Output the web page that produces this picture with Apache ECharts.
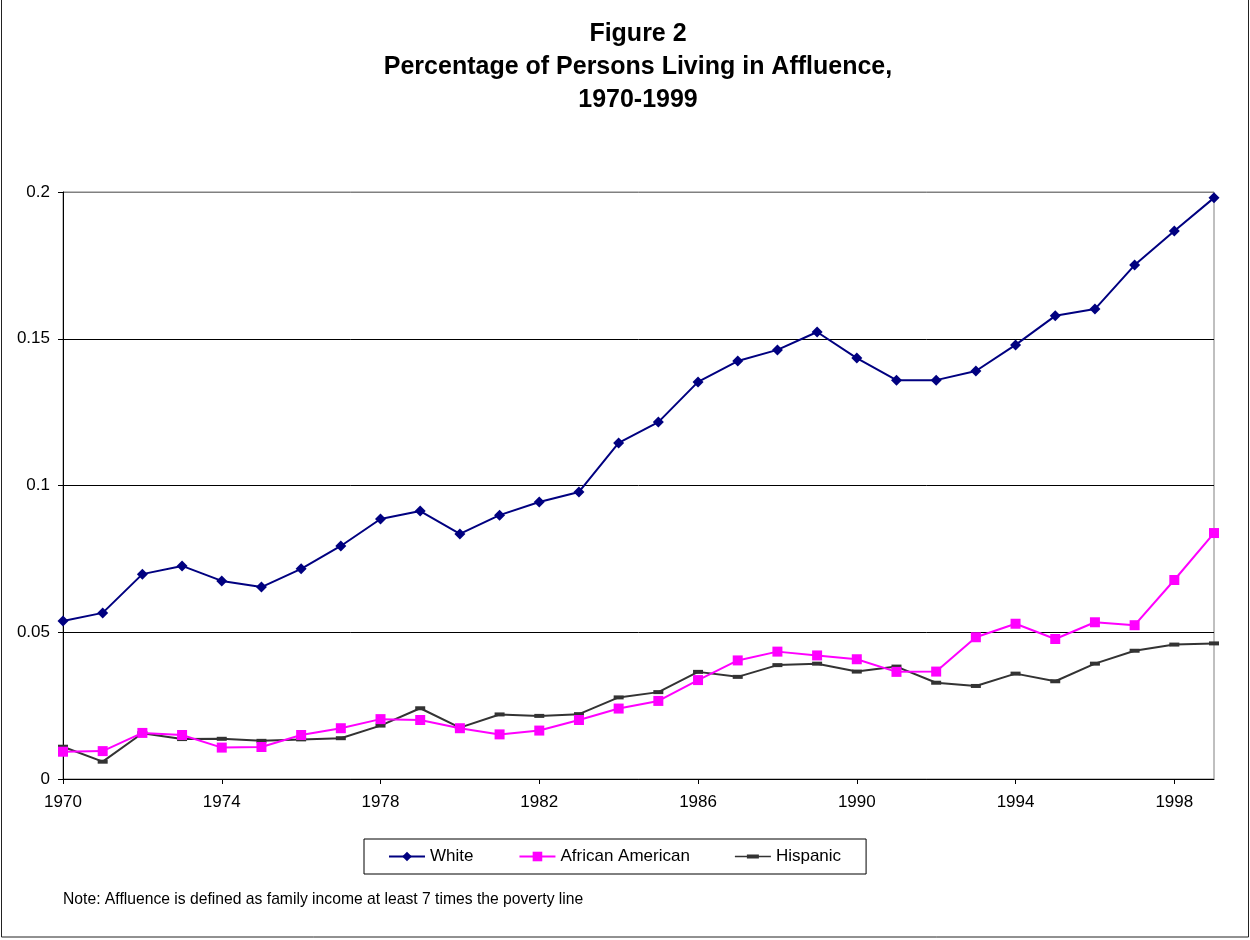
<!DOCTYPE html>
<html>
<head>
<meta charset="utf-8">
<script src="https://cdn.jsdelivr.net/npm/echarts@6/dist/echarts.min.js"></script>
<style>
  html, body { margin: 0; padding: 0; background: #fff; }
  #chart { width: 1250px; height: 940px; }
</style>
</head>
<body>
<div id="chart"></div>
<script>
// Years on the category axis
const years = [];
for (let y = 1970; y <= 1999; y++) years.push(String(y));

// Share of persons living in affluence, by group
const white = [0.0538, 0.0566, 0.0698, 0.0726, 0.0675, 0.0654, 0.0716, 0.0794, 0.0886, 0.0913,
               0.0835, 0.0899, 0.0944, 0.0978, 0.1145, 0.1216, 0.1353, 0.1424, 0.1462, 0.1523,
               0.1434, 0.1359, 0.1359, 0.1390, 0.1479, 0.1578, 0.1601, 0.1751, 0.1867, 0.1980];
const africanAmerican = [0.0093, 0.0095, 0.0157, 0.0150, 0.0107, 0.0109, 0.0150, 0.0173, 0.0204, 0.0201,
                         0.0173, 0.0152, 0.0165, 0.0201, 0.0240, 0.0266, 0.0337, 0.0404, 0.0434, 0.0421,
                         0.0408, 0.0365, 0.0366, 0.0483, 0.0529, 0.0477, 0.0534, 0.0524, 0.0678, 0.0838];
const hispanic = [0.0110, 0.0059, 0.0156, 0.0136, 0.0137, 0.0130, 0.0135, 0.0139, 0.0182, 0.0241,
                  0.0175, 0.0220, 0.0215, 0.0221, 0.0278, 0.0296, 0.0365, 0.0348, 0.0388, 0.0393,
                  0.0366, 0.0383, 0.0328, 0.0317, 0.0359, 0.0333, 0.0393, 0.0437, 0.0458, 0.0462];

const yTicks = ['0', '0.05', '0.1', '0.15', '0.2'];

const FONT = '"Liberation Sans", Arial, sans-serif';

// Legend glyph for the dash-marker series: a thin line with a short bar on it
const DASH_ICON = 'path://M0,5.2 H36 V6.8 H0 Z M12,4 H24 V8 H12 Z';

const chart = echarts.init(document.getElementById('chart'), null, { renderer: 'canvas' });

chart.setOption({
  backgroundColor: '#ffffff',
  animation: false,
  textStyle: { fontFamily: FONT, color: '#000' },
  title: {
    text: 'Figure 2\nPercentage of Persons Living in Affluence,\n1970-1999',
    left: 633,
    top: 13,
    textAlign: 'center',
    textStyle: {
      fontFamily: FONT,
      fontSize: 25,
      fontWeight: 'bold',
      lineHeight: 33,
      color: '#000'
    }
  },
  grid: {
    left: 63,
    top: 192,
    width: 1151,
    height: 587,
    show: true,
    borderColor: '#808080',
    borderWidth: 1,
    containLabel: false
  },
  legend: {
    left: 364,
    top: 839,
    padding: [9, 25, 9, 24],
    borderColor: '#000',
    borderWidth: 1,
    itemGap: 45,
    itemWidth: 36,
    itemHeight: 12,
    textStyle: { fontFamily: FONT, fontSize: 17, color: '#000' },
    data: [
      { name: 'White' },
      { name: 'African American' },
      { name: 'Hispanic', icon: DASH_ICON }
    ]
  },
  xAxis: {
    type: 'category',
    data: years,
    boundaryGap: false,
    axisLine: { lineStyle: { color: '#000', width: 1 } },
    axisTick: { show: true, interval: 3, length: 5, lineStyle: { color: '#000' } },
    axisLabel: { interval: 3, fontSize: 17, color: '#000', margin: 15, fontFamily: FONT },
    splitLine: { show: false }
  },
  yAxis: {
    type: 'value',
    min: 0,
    max: 0.2,
    interval: 0.05,
    axisLine: { show: true, lineStyle: { color: '#000', width: 1 } },
    axisTick: { show: true, length: 5, lineStyle: { color: '#000' } },
    axisLabel: {
      fontSize: 17,
      color: '#000',
      margin: 13,
      fontFamily: FONT,
      formatter: (v) => yTicks[Math.round(v / 0.05)]
    },
    splitLine: {
      show: true,
      lineStyle: { color: ['#000', '#000', '#000', '#000', '#808080'], width: 1 }
    }
  },
  series: [
    {
      name: 'White',
      type: 'line',
      data: white,
      symbol: 'diamond',
      symbolSize: 11,
      showAllSymbol: true,
      lineStyle: { color: '#000080', width: 2 },
      itemStyle: { color: '#000080' },
      z: 4
    },
    {
      name: 'African American',
      type: 'line',
      data: africanAmerican,
      symbol: 'rect',
      symbolSize: 10,
      showAllSymbol: true,
      lineStyle: { color: '#ff00ff', width: 2 },
      itemStyle: { color: '#ff00ff' },
      z: 3
    },
    {
      name: 'Hispanic',
      type: 'line',
      data: hispanic,
      symbol: 'rect',
      symbolSize: [10, 4],
      showAllSymbol: true,
      lineStyle: { color: '#333333', width: 2 },
      itemStyle: { color: '#333333' },
      z: 2
    }
  ],
  graphic: [
    {
      type: 'rect',
      shape: { x: 1.5, y: -1, width: 1247, height: 938 },
      style: { fill: 'none', stroke: '#222', lineWidth: 1 },
      silent: true,
      z: 100
    },
    {
      type: 'text',
      left: 63,
      top: 892,
      style: {
        text: 'Note: Affluence is defined as family income at least 7 times the poverty line',
        font: '15.7px "Liberation Sans", Arial, sans-serif',
        fill: '#000'
      },
      silent: true
    }
  ]
});
</script>
</body>
</html>
